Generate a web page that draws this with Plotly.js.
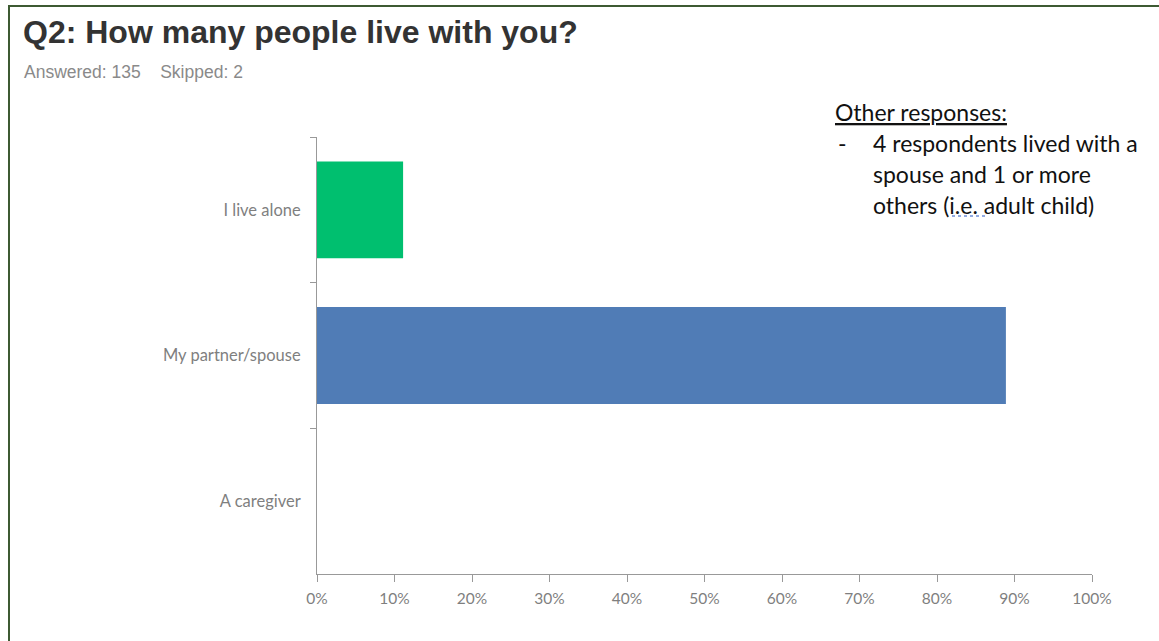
<!DOCTYPE html>
<html>
<head>
<meta charset="utf-8">
<script src="https://cdn.plot.ly/plotly-3.0.1.min.js"></script>
<style>
  html, body { margin: 0; padding: 0; background: #fff; }
  #wrap { position: relative; width: 1159px; height: 641px; overflow: hidden; }
  #frame { position: absolute; left: 8px; top: 5px; width: 1200px; height: 700px;
           border-left: 2px solid #3d5a32; border-top: 2px solid #3d5a32; pointer-events: none; z-index: 5; }
  #chart { position: absolute; left: 0; top: 0; width: 1159px; height: 641px; }
</style>
</head>
<body>
<div id="wrap">
  <div id="chart"></div>
  <div id="frame"></div>
</div>
<script>
// Data
const categories = ["I live alone", "My partner/spouse", "A caregiver"];
const values = [0.1111, 0.8889, 0];
const barColors = ["#00bf6f", "#507cb6", "#507cb6"];
const xTickVals = [0, 0.1, 0.2, 0.3, 0.4, 0.5, 0.6, 0.7, 0.8, 0.9, 1.0];
const xTickText = ["0%", "10%", "20%", "30%", "40%", "50%", "60%", "70%", "80%", "90%", "100%"];
const titleText = "Q2: How many people live with you?";
const subtitleText = "Answered: 135&nbsp;&nbsp;&nbsp;&nbsp;Skipped: 2";
const noteHeader = "Other responses:";
const noteLines = ["4 respondents lived with a", "spouse and 1 or more", "others (i.e. adult child)"];

const W = 1159, H = 641;
const L = 317, R = 1092, T = 137, B = 574;
const px = x => (x - L) / (R - L);
const py = y => (B - y) / (B - T);

const noteFont = { family: "Lato, 'Open Sans', sans-serif", size: 23, color: "#111" };

const annotations = [
  { text: subtitleText, x: px(22), y: py(72), xref: "paper", yref: "paper",
    xanchor: "left", yanchor: "middle", showarrow: false,
    font: { family: "'Liberation Sans', Arial, sans-serif", size: 17.5, color: "#8a8a8a" } },
  { text: "<u>" + noteHeader + "</u>", x: px(833), y: py(112), xref: "paper", yref: "paper",
    xanchor: "left", yanchor: "middle", showarrow: false, font: noteFont },
  { text: "-", x: px(836), y: py(143), xref: "paper", yref: "paper",
    xanchor: "left", yanchor: "middle", showarrow: false, font: noteFont }
];
const lineY = [143, 174, 205];
noteLines.forEach((t, i) => {
  annotations.push({ text: t, x: px(871), y: py(lineY[i]), xref: "paper", yref: "paper",
    xanchor: "left", yanchor: "middle", showarrow: false, font: noteFont });
});

const trace = {
  type: "bar",
  orientation: "h",
  y: categories,
  x: values,
  width: 0.665,
  marker: { color: barColors, line: { width: 0 } },
  hoverinfo: "none"
};

const layout = {
  width: W, height: H,
  margin: { l: L, r: W - R, t: T, b: H - B, pad: 0 },
  paper_bgcolor: "#fff", plot_bgcolor: "#fff",
  showlegend: false,
  title: {
    text: "<b>" + titleText + "</b>",
    x: 23 / W, xref: "container", xanchor: "left",
    y: 1 - 32 / H, yref: "container", yanchor: "middle",
    font: { family: "'Liberation Sans', Arial, sans-serif", size: 32, color: "#333" }
  },
  xaxis: {
    range: [0, 1], fixedrange: true,
    tickvals: xTickVals, ticktext: xTickText,
    ticks: "outside", ticklen: 7, tickwidth: 1, tickcolor: "#999",
    showline: true, linecolor: "#999", linewidth: 1,
    showgrid: false, zeroline: false,
    ticklabelstandoff: 3,
    tickfont: { family: "Lato, 'Open Sans', sans-serif", size: 15.5, color: "#7f7f7f" }
  },
  yaxis: {
    type: "category",
    categoryorder: "array", categoryarray: categories,
    autorange: "reversed",
    tickson: "boundaries",
    ticks: "outside", ticklen: 6, tickwidth: 1, tickcolor: "#999",
    showline: true, linecolor: "#999", linewidth: 1,
    showgrid: false, zeroline: false,
    ticklabelstandoff: 12,
    tickfont: { family: "Lato, 'Open Sans', sans-serif", size: 16.5, color: "#7f7f7f" }
  },
  shapes: [
    { type: "line", xref: "paper", yref: "paper",
      x0: px(952), x1: px(986), y0: py(216), y1: py(216),
      line: { color: "#6f8fd8", width: 1.5, dash: "dot" } }
  ],
  annotations: annotations
};

Plotly.newPlot("chart", [trace], layout, { displayModeBar: false, staticPlot: true });
</script>
</body>
</html>
